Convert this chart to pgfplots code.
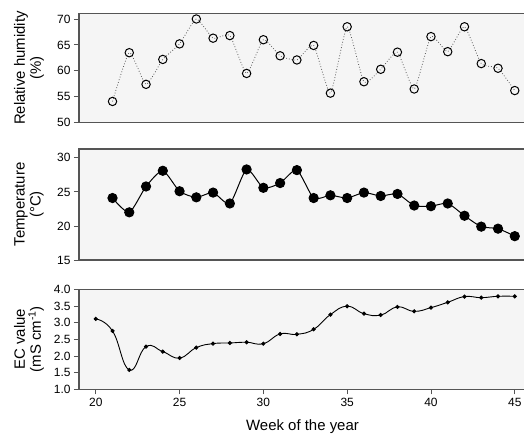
\documentclass[border=0pt]{standalone}
\usepackage{fontspec}
\setmainfont{Liberation Sans}
\usepackage{pgfplots}
\pgfplotsset{compat=1.18}

\definecolor{spine}{HTML}{555555}
\definecolor{panel}{HTML}{F5F5F5}

\pgfplotsset{
  panel/.style={
    scale only axis, width=447bp, xmin=19, xmax=45.67,
    axis background/.style={fill=panel},
    axis line style={spine, line width=1.2pt},
    tick style={spine, line width=0.9pt},
    tick align=outside, major tick length=5bp,
    ytick pos=left, xtick pos=bottom,
    ticklabel style={font=\fontsize{12}{12}\selectfont},
    /pgf/number format/assume math mode=true,
    every axis y label/.style={at={(axis description cs:0,0.5)}, xshift=-50bp,
      rotate=90, anchor=center, align=center, font=\fontsize{15}{16}\selectfont},
    anchor=south west,
  }
}

\begin{document}
\begin{tikzpicture}
\useasboundingbox (0,0) rectangle (524bp,441bp);

% relative humidity
\begin{axis}[panel, at={(79bp,318.3bp)}, height=109.2bp,
  ymin=50, ymax=71.06, ytick={50,55,60,65,70}, xtick=\empty,
  ylabel={Relative humidity\\(\%)}]
\addplot[dotted, gray!70!black, line width=0.8pt, smooth, tension=0.3,
  mark=o, mark size=4.2bp, mark options={solid, black, line width=1pt, fill=white}]
  coordinates {
  (21,54.1) (22,63.5) (23,57.4) (24,62.2) (25,65.2) (26,70.0) (27,66.3)
  (28,66.8) (29,59.5) (30,66.0) (31,62.9) (32,62.1) (33,64.9) (34,55.7)
  (35,68.5) (36,57.9) (37,60.3) (38,63.6) (39,56.5) (40,66.6) (41,63.7)
  (42,68.5) (43,61.4) (44,60.5) (45,56.2)
  };
\end{axis}

% temperature
\begin{axis}[panel, at={(79bp,181bp)}, height=111bp,
  ymin=15, ymax=31.3, ytick={15,20,25,30}, xtick=\empty,
  ylabel={Temperature\\(°C)}]
\addplot[black, line width=1pt, smooth, tension=0.4,
  mark=*, mark size=4.6bp]
  coordinates {
  (21,24.1) (22,22.0) (23,25.8) (24,28.1) (25,25.1) (26,24.2) (27,24.9)
  (28,23.3) (29,28.3) (30,25.6) (31,26.3) (32,28.2) (33,24.1) (34,24.5)
  (35,24.1) (36,24.9) (37,24.4) (38,24.7) (39,23.0) (40,22.9) (41,23.3)
  (42,21.5) (43,19.9) (44,19.6) (45,18.5)
  };
\end{axis}

% EC value
\begin{axis}[panel, at={(79bp,51.7bp)}, height=100bp,
  ymin=1, ymax=4, ytick={1,1.5,...,4},
  yticklabel style={/pgf/number format/.cd, fixed, fixed zerofill, precision=1},
  xtick={20,25,...,45},
  ylabel={EC value\\(mS cm\textsuperscript{-1})},
  xlabel={Week of the year},
  every axis x label/.style={at={(axis description cs:0.5,0)}, yshift=-37.7bp,
    anchor=center, font=\fontsize{15}{16}\selectfont}]
\addplot[black, line width=0.9pt, smooth, tension=0.8,
  mark=*, mark size=1.6bp]
  coordinates {
  (20,3.11) (21,2.75) (22,1.58) (23,2.28) (24,2.13) (25,1.94) (26,2.25)
  (27,2.37) (28,2.39) (29,2.41) (30,2.37) (31,2.66) (32,2.65) (33,2.80)
  (34,3.24) (35,3.49) (36,3.27) (37,3.23) (38,3.47) (39,3.34) (40,3.45)
  (41,3.61) (42,3.78) (43,3.75) (44,3.79) (45,3.79)
  };
\end{axis}
\end{tikzpicture}
\end{document}
